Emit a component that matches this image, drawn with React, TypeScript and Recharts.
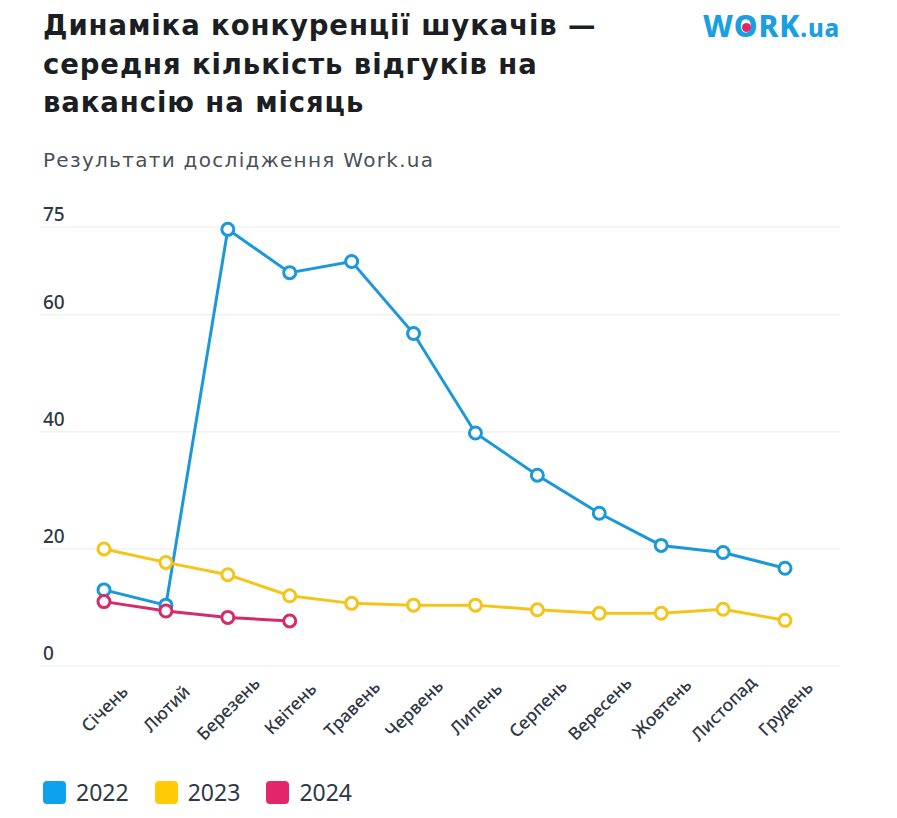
import React from "react";
import { LineChart, Line, XAxis, YAxis, CartesianGrid } from "recharts";

const MONTHS = [
  "Січень", "Лютий", "Березень", "Квітень", "Травень", "Червень",
  "Липень", "Серпень", "Вересень", "Жовтень", "Листопад", "Грудень",
];
const Y2022 = [13, 10.4, 74.6, 67.2, 69.1, 56.8, 39.8, 32.6, 26.1, 20.6, 19.4, 16.7];
const Y2023 = [20, 17.7, 15.6, 12, 10.7, 10.4, 10.4, 9.6, 9, 9, 9.7, 7.8];
const Y2024 = [11, 9.4, 8.3, 7.7];
const Y_TICKS = [0, 20, 40, 60, 75];

const SERIES = [
  { key: "y2022", name: "2022", line: "#1b98da", swatch: "#0ea2ee" },
  { key: "y2023", name: "2023", line: "#f4c419", swatch: "#ffcb05" },
  { key: "y2024", name: "2024", line: "#d42b6b", swatch: "#e3266a" },
];

const data = MONTHS.map((m, i) => ({
  month: m,
  y2022: Y2022[i],
  y2023: Y2023[i],
  y2024: i < Y2024.length ? Y2024[i] : null,
}));

const FONT = "'Noto Sans', sans-serif";
const HEAD_FONT = "'DejaVu Sans', sans-serif";
const TEXT = "#2f3845";
const PLOT_LEFT = 40;

const YTick = ({ y, payload }: any) => (
  <text x={PLOT_LEFT + 3} y={y - 6} fill={TEXT} fontSize={19} fontWeight={500} fontFamily={FONT}>
    {payload.value}
  </text>
);

const XTick = ({ x, y, payload }: any) => (
  <text
    x={x}
    y={y + 34}
    transform={`rotate(-45, ${x}, ${y + 34})`}
    textAnchor="middle"
    dominantBaseline="central"
    fill={TEXT}
    fontSize={17.5}
    fontWeight={500}
    fontFamily={FONT}
  >
    {payload.value}
  </text>
);

function Logo() {
  return (
    <div
      style={{
        position: "absolute",
        left: 703,
        top: 5,
        color: "#1a9fe3",
        fontFamily: FONT,
        fontWeight: 800,
        fontSize: 30,
        letterSpacing: 0.8,
        whiteSpace: "nowrap",
      }}
    >
      W
      <span style={{ position: "relative", display: "inline-block" }}>
        O
        <span
          style={{
            position: "absolute",
            left: "50%",
            top: "54%",
            width: 9,
            height: 9,
            marginLeft: -4.5,
            marginTop: -4.5,
            borderRadius: "50%",
            background: "#e3266a",
          }}
        />
      </span>
      RK<span style={{ fontSize: 24 }}>.ua</span>
    </div>
  );
}

export default function App() {
  return (
    <div
      style={{
        position: "absolute",
        left: 0,
        top: 0,
        width: 897,
        height: 818,
        background: "#fff",
        fontFamily: FONT,
        overflow: "hidden",
      }}
    >
      <div
        style={{
          position: "absolute",
          left: 43,
          top: 6,
          width: 660,
          fontFamily: HEAD_FONT,
          fontSize: 27.5,
          letterSpacing: 0.9,
          lineHeight: "38.5px",
          fontWeight: 700,
          color: "#1b1e22",
        }}
      >
        Динаміка конкуренції шукачів —
        <br />
        середня кількість відгуків на
        <br />
        вакансію на місяць
      </div>
      <Logo />
      <div
        style={{
          position: "absolute",
          left: 43,
          top: 148,
          fontFamily: HEAD_FONT,
          fontSize: 20,
          letterSpacing: 1.3,
          color: "#4a5058",
        }}
      >
        Результати дослідження Work.ua
      </div>

      <div style={{ position: "absolute", left: 0, top: 0 }}>
        <LineChart
          width={897}
          height={818}
          data={data}
          margin={{ top: 227, right: 57, bottom: 92, left: PLOT_LEFT - 1 }}
        >
          <CartesianGrid horizontal vertical={false} stroke="#ebebeb" />
          <XAxis
            dataKey="month"
            axisLine={false}
            tickLine={false}
            interval={0}
            height={60}
            padding={{ left: 64, right: 55 }}
            tick={<XTick />}
          />
          <YAxis
            width={1}
            domain={[0, 75]}
            ticks={Y_TICKS}
            interval={0}
            axisLine={false}
            tickLine={false}
            tick={<YTick />}
          />
          {SERIES.map((s) => (
            <Line
              key={s.key}
              dataKey={s.key}
              name={s.name}
              stroke={s.line}
              strokeWidth={3}
              dot={{ r: 6, fill: "#fff", stroke: s.line, strokeWidth: 3 }}
              activeDot={false}
              isAnimationActive={false}
            />
          ))}
        </LineChart>
      </div>

      <div style={{ position: "absolute", left: 43, top: 780, display: "flex" }}>
        {SERIES.map((s) => (
          <div key={s.key} style={{ display: "flex", alignItems: "center", width: 111.7, height: 24 }}>
            <span
              style={{
                width: 23,
                height: 23,
                borderRadius: 4,
                background: s.swatch,
                marginRight: 10,
              }}
            />
            <span style={{ fontSize: 23, color: TEXT, lineHeight: "24px" }}>{s.name}</span>
          </div>
        ))}
      </div>
    </div>
  );
}
